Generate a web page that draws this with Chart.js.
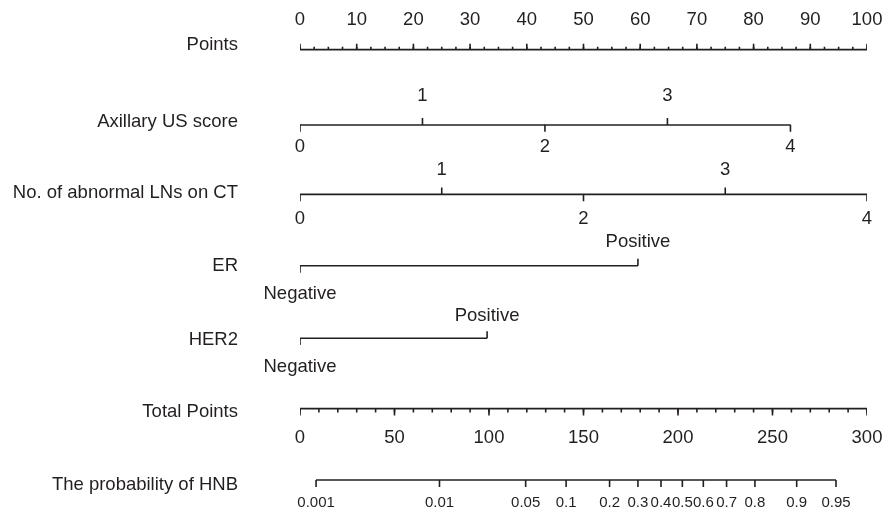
<!DOCTYPE html>
<html>
<head>
<meta charset="utf-8">
<script src="https://cdn.jsdelivr.net/npm/chart.js@4/dist/chart.umd.min.js"></script>
<style>
  body { margin: 0; background: #fff; }
  #chart { display: block; }
</style>
</head>
<body>
<canvas id="chart" width="883" height="513"></canvas>
<script>
// values (points scale is 0-100, total points 0-300)
const pointsTicks = [0, 10, 20, 30, 40, 50, 60, 70, 80, 90, 100]

const usScoreLabels = ['0', '1', '2', '3', '4']
const usScorePoints = [0, 21.6, 43.2, 64.8, 86.5]

const lnLabels = ['0', '1', '2', '3', '4']
const lnPoints = [0, 25, 50, 75, 100]

const erLabels = ['Negative', 'Positive']
const erPoints = [0, 59.6]

const her2Labels = ['Negative', 'Positive']
const her2Points = [0, 33.0]

const totalTicks = [0, 50, 100, 150, 200, 250, 300]

const probLabels = ['0.001', '0.01', '0.05', '0.1', '0.2', '0.3', '0.4', '0.5', '0.6', '0.7', '0.8', '0.9', '0.95']
const probTotalPoints = [8.5, 73.8, 119.4, 140.8, 163.8, 178.8, 191.0, 202.3, 213.4, 225.7, 240.7, 262.8, 283.6]

const rowTitles = ['Points', 'Axillary US score', 'No. of abnormal LNs on CT', 'ER', 'HER2', 'Total Points', 'The probability of HNB']

// layout (y in canvas pixels)
const rowY = [45, 122, 193, 266, 340, 412, 485]
const ink = '#231f20'
const font = '"Liberation Sans", Arial, sans-serif'

const axisLine = (x0, x1, y, axis) => ({
    type: 'line',
    xAxisID: axis,
    data: [{ x: x0, y: y }, { x: x1, y: y }],
    borderColor: ink,
    borderWidth: 1.6,
    pointRadius: 0
})

// tick marks: vertical 'line' points, dir -1 = up, 1 = down
const tickMarks = (xs, y, len, dir, axis) => ({
    type: 'scatter',
    xAxisID: axis,
    data: xs.map(x => ({ x: x, y: y + dir * len / 2 })),
    pointStyle: 'line',
    rotation: 90,
    radius: len / 2,
    borderColor: ink,
    borderWidth: 1.6
})

const minorPoints = []
for (let v = 0; v <= 100; v += 2.5) minorPoints.push(v)
const minorTotal = []
for (let v = 0; v <= 300; v += 10) minorTotal.push(v)

const odd = arr => arr.filter((v, i) => i % 2 == 1)
const even = arr => arr.filter((v, i) => i % 2 == 0)

// labels: [axis, values, texts, y, size]
const labelSets = [
    ['x', pointsTicks, pointsTicks.map(String), 20, 18.5],
    ['x', odd(usScorePoints), odd(usScoreLabels), 96, 18.5],
    ['x', even(usScorePoints), even(usScoreLabels), 147, 18.5],
    ['x', odd(lnPoints), odd(lnLabels), 170, 18.5],
    ['x', even(lnPoints), even(lnLabels), 219, 18.5],
    ['x', [erPoints[1]], [erLabels[1]], 242, 18.5],
    ['x', [erPoints[0]], [erLabels[0]], 294, 18.5],
    ['x', [her2Points[1]], [her2Labels[1]], 316, 18.5],
    ['x', [her2Points[0]], [her2Labels[0]], 367, 18.5],
    ['xTotal', totalTicks, totalTicks.map(String), 438, 18.5],
    ['xTotal', probTotalPoints, probLabels, 503, 15]
]

const textPlugin = {
    id: 'nomogramText',
    afterDatasetsDraw(chart) {
        const ctx = chart.ctx
        ctx.save()
        ctx.fillStyle = ink
        ctx.textBaseline = 'middle'
        ctx.textAlign = 'right'
        ctx.font = `18.5px ${font}`
        rowTitles.forEach((t, i) => ctx.fillText(t, 238, rowY[i]))
        ctx.textAlign = 'center'
        for (const [axis, vals, texts, y, size] of labelSets) {
            ctx.font = `${size}px ${font}`
            const scale = chart.scales[axis]
            vals.forEach((v, i) => ctx.fillText(texts[i], scale.getPixelForValue(v), y))
        }
        ctx.restore()
    }
}

new Chart(document.getElementById('chart').getContext('2d'), {
    data: {
        datasets: [
            axisLine(0, 100, rowY[0], 'x'),
            tickMarks(minorPoints, rowY[0], 3, -1, 'x'),
            tickMarks(pointsTicks, rowY[0], 6, -1, 'x'),

            axisLine(usScorePoints[0], usScorePoints[4], rowY[1], 'x'),
            tickMarks(odd(usScorePoints), rowY[1], 7, -1, 'x'),
            tickMarks(even(usScorePoints), rowY[1], 7, 1, 'x'),

            axisLine(lnPoints[0], lnPoints[4], rowY[2], 'x'),
            tickMarks(odd(lnPoints), rowY[2], 7, -1, 'x'),
            tickMarks(even(lnPoints), rowY[2], 7, 1, 'x'),

            axisLine(erPoints[0], erPoints[1], rowY[3], 'x'),
            tickMarks([erPoints[1]], rowY[3], 7, -1, 'x'),
            tickMarks([erPoints[0]], rowY[3], 7, 1, 'x'),

            axisLine(her2Points[0], her2Points[1], rowY[4], 'x'),
            tickMarks([her2Points[1]], rowY[4], 7, -1, 'x'),
            tickMarks([her2Points[0]], rowY[4], 7, 1, 'x'),

            axisLine(0, 300, rowY[5], 'xTotal'),
            tickMarks(minorTotal, rowY[5], 4, 1, 'xTotal'),
            tickMarks(totalTicks, rowY[5], 7, 1, 'xTotal'),

            axisLine(probTotalPoints[0], probTotalPoints[probTotalPoints.length - 1], rowY[6], 'xTotal'),
            tickMarks(probTotalPoints, rowY[6], 7, 1, 'xTotal')
        ]
    },
    options: {
        responsive: false,
        animation: false,
        layout: { padding: { left: 300, right: 16, top: 0, bottom: 0 } },
        plugins: { legend: { display: false }, tooltip: { enabled: false } },
        scales: {
            x: { type: 'linear', min: 0, max: 100, display: false },
            xTotal: { type: 'linear', axis: 'x', min: 0, max: 300, display: false },
            y: { type: 'linear', min: 0, max: 513, reverse: true, display: false }
        }
    },
    plugins: [textPlugin]
});
</script>
</body>
</html>
